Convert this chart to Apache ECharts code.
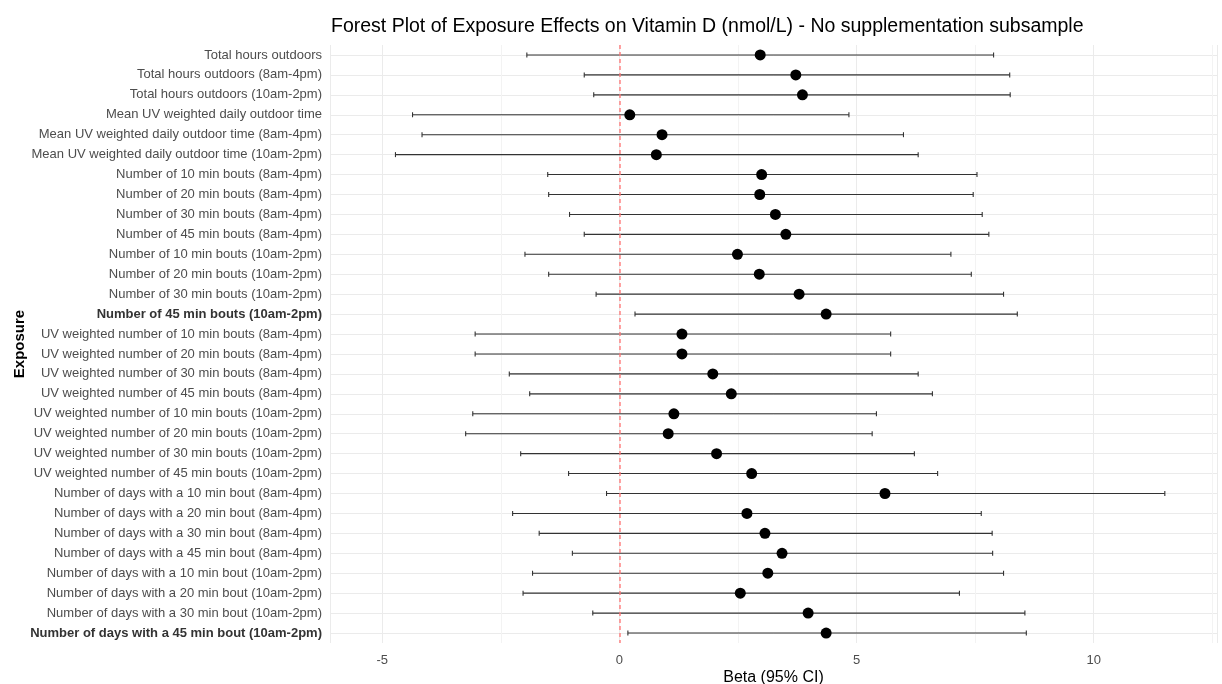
<!DOCTYPE html>
<html><head><meta charset="utf-8">
<script src="https://cdn.jsdelivr.net/npm/echarts@6/dist/echarts.min.js"></script>
<style>html,body{margin:0;padding:0;background:#fff}#c{width:1222px;height:684px}</style>
</head><body><div id="c"></div>
<script>
const categories = [
  "Total hours outdoors",
  "Total hours outdoors (8am-4pm)",
  "Total hours outdoors (10am-2pm)",
  "Mean UV weighted daily outdoor time",
  "Mean UV weighted daily outdoor time (8am-4pm)",
  "Mean UV weighted daily outdoor time (10am-2pm)",
  "Number of 10 min bouts (8am-4pm)",
  "Number of 20 min bouts (8am-4pm)",
  "Number of 30 min bouts (8am-4pm)",
  "Number of 45 min bouts (8am-4pm)",
  "Number of 10 min bouts (10am-2pm)",
  "Number of 20 min bouts (10am-2pm)",
  "Number of 30 min bouts (10am-2pm)",
  "Number of 45 min bouts (10am-2pm)",
  "UV weighted number of 10 min bouts (8am-4pm)",
  "UV weighted number of 20 min bouts (8am-4pm)",
  "UV weighted number of 30 min bouts (8am-4pm)",
  "UV weighted number of 45 min bouts (8am-4pm)",
  "UV weighted number of 10 min bouts (10am-2pm)",
  "UV weighted number of 20 min bouts (10am-2pm)",
  "UV weighted number of 30 min bouts (10am-2pm)",
  "UV weighted number of 45 min bouts (10am-2pm)",
  "Number of days with a 10 min bout (8am-4pm)",
  "Number of days with a 20 min bout (8am-4pm)",
  "Number of days with a 30 min bout (8am-4pm)",
  "Number of days with a 45 min bout (8am-4pm)",
  "Number of days with a 10 min bout (10am-2pm)",
  "Number of days with a 20 min bout (10am-2pm)",
  "Number of days with a 30 min bout (10am-2pm)",
  "Number of days with a 45 min bout (10am-2pm)"
];
const beta  = [2.97, 3.72, 3.86, 0.22, 0.90, 0.78, 3.00, 2.96, 3.29, 3.51, 2.49, 2.95, 3.79, 4.36,
               1.32, 1.32, 1.97, 2.36, 1.15, 1.03, 2.05, 2.79, 5.60, 2.69, 3.07, 3.43, 3.13, 2.55, 3.98, 4.36];
const lower = [-1.95, -0.74, -0.54, -4.36, -4.16, -4.72, -1.51, -1.49, -1.05, -0.74, -1.99, -1.49, -0.49, 0.33,
               -3.04, -3.04, -2.32, -1.89, -3.09, -3.24, -2.08, -1.07, -0.27, -2.25, -1.69, -0.99, -1.83, -2.03, -0.56, 0.18];
const upper = [7.89, 8.23, 8.24, 4.84, 5.99, 6.30, 7.54, 7.46, 7.65, 7.79, 6.99, 7.42, 8.10, 8.39,
               5.72, 5.72, 6.30, 6.60, 5.42, 5.33, 6.22, 6.71, 11.50, 7.63, 7.86, 7.87, 8.10, 7.17, 8.55, 8.58];
const highlighted = ["Number of 45 min bouts (10am-2pm)", "Number of days with a 45 min bout (10am-2pm)"];
const xTitle = "Beta (95% CI)";
const yTitle = "Exposure";
const chartTitle = "Forest Plot of Exposure Effects on Vitamin D (nmol/L) - No supplementation subsample";

const FONT = "Liberation Sans, Arial, sans-serif";
const chart = echarts.init(document.getElementById('c'), null, {renderer: 'canvas'});
chart.setOption({
  backgroundColor: '#fff',
  animation: false,
  textStyle: {fontFamily: FONT},
  title: {
    text: chartTitle, left: 326, top: 12,
    textStyle: {fontFamily: FONT, fontSize: 19.5, fontWeight: 'normal', color: '#000'}
  },
  grid: {left: 330, right: 5, top: 45, bottom: 41, containLabel: false, outerBoundsMode: 'none'},
  xAxis: {
    type: 'value', min: -6.1, max: 12.6, splitNumber: 4,
    name: xTitle, nameLocation: 'middle', nameGap: 27, nameMoveOverlap: false,
    nameTextStyle: {fontFamily: FONT, fontSize: 16, color: '#000'},
    axisLine: {show: false}, axisTick: {show: false},
    axisLabel: {color: '#4d4d4d', fontSize: 13, margin: 11, showMinLabel: false, showMaxLabel: false, fontFamily: FONT},
    splitLine: {show: true, lineStyle: {color: '#ebebeb', width: 1}},
    minorTick: {show: false, splitNumber: 2},
    minorSplitLine: {show: true, lineStyle: {color: '#f3f3f3', width: 1}}
  },
  yAxis: {
    type: 'category', data: categories, inverse: true, boundaryGap: true,
    name: yTitle, nameLocation: 'middle', nameGap: 303, nameRotate: 90, nameMoveOverlap: false,
    nameTextStyle: {fontFamily: FONT, fontSize: 15, fontWeight: 'bold', color: '#000'},
    axisLine: {show: false}, axisTick: {show: false},
    axisLabel: {
      color: '#4d4d4d', fontSize: 13, margin: 8, fontFamily: FONT, interval: 0,
      formatter: v => highlighted.includes(v) ? '{b|' + v + '}' : v,
      rich: {b: {fontWeight: 'bold', color: '#333', fontSize: 13, fontFamily: FONT}}
    },
    splitLine: {show: true, alignWithLabel: true, lineStyle: {color: '#ebebeb', width: 1}}
  },
  series: [
    {
      type: 'custom',
      silent: true,
      encode: {x: [1, 2], y: 0},
      data: categories.map((c, i) => [i, lower[i], upper[i]]),
      renderItem: (params, api) => {
        const yi = api.value(0);
        const a = api.coord([api.value(1), yi]);
        const b = api.coord([api.value(2), yi]);
        const h = 2.5;
        const st = {stroke: '#333', lineWidth: 1.1};
        return {type: 'group', children: [
          {type: 'line', shape: {x1: a[0], y1: a[1], x2: b[0], y2: b[1]}, style: st},
          {type: 'line', shape: {x1: a[0], y1: a[1] - h, x2: a[0], y2: a[1] + h}, style: st},
          {type: 'line', shape: {x1: b[0], y1: b[1] - h, x2: b[0], y2: b[1] + h}, style: st}
        ]};
      },
      z: 3
    },
    {
      type: 'scatter',
      symbol: 'circle', symbolSize: 11,
      itemStyle: {color: '#000', opacity: 1},
      data: categories.map((c, i) => [beta[i], i]),
      z: 4,
      markLine: {
        silent: true, symbol: 'none', label: {show: false},
        lineStyle: {color: '#f77', type: [4, 3], width: 1.5, opacity: 0.9},
        data: [{xAxis: 0}]
      }
    }
  ]
});
</script>
</body></html>
